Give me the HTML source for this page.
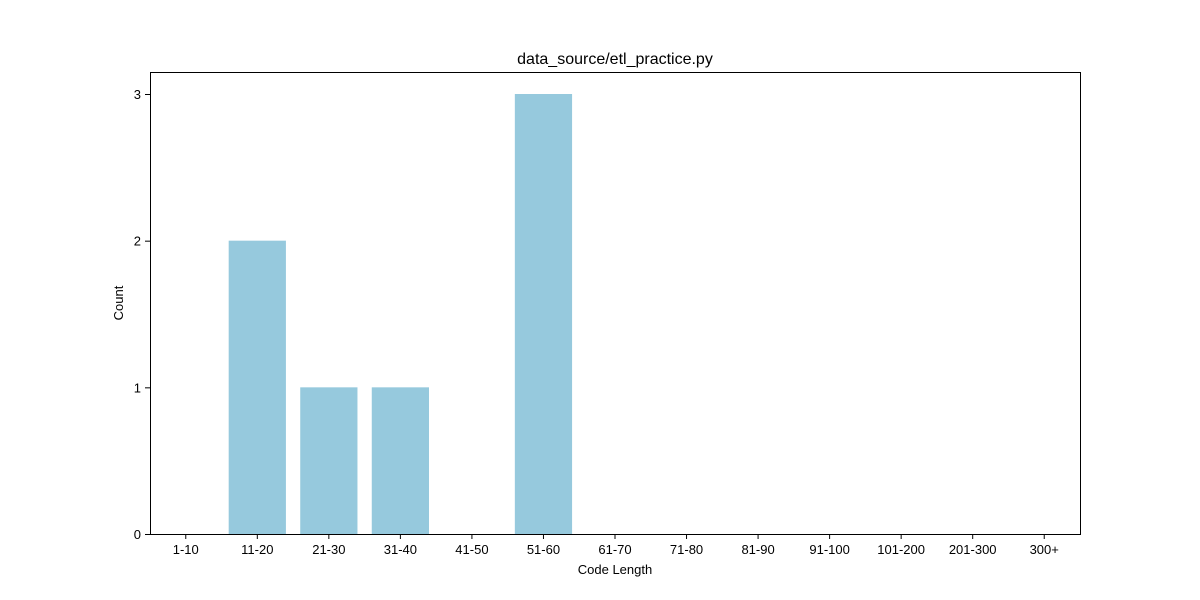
<!DOCTYPE html>
<html><head><meta charset="utf-8"><style>
body{margin:0;background:#fff;}
svg{display:block;font-family:"Liberation Sans","DejaVu Sans",sans-serif;}
</style></head><body>
<svg id="chart" width="1200" height="600">
<rect width="1200" height="600" fill="#fff"/>
<text x="615" y="64" text-anchor="middle" font-size="16">data_source/etl_practice.py</text>
<g id="bars"></g>
<g id="xticks"></g>
<g id="yticks"></g>
<rect x="150.5" y="72.5" width="930" height="462" fill="none" stroke="#000" stroke-width="1"/>
<text x="615" y="574" text-anchor="middle" font-size="13">Code Length</text>
<text transform="translate(123,303) rotate(-90)" text-anchor="middle" font-size="13">Count</text>
</svg>
<script>
const categories = ["1-10","11-20","21-30","31-40","41-50","51-60","61-70","71-80","81-90","91-100","101-200","201-300","300+"];
const counts = [0,2,1,1,0,3,0,0,0,0,0,0,0];
const yTickValues = [0,1,2,3];
const NS="http://www.w3.org/2000/svg";
const L=150,R=1080,T=72,B=534,yMax=3.15;
const step=(R-L)/categories.length;
const xc=i=>L+step*(i+0.5);
const y=v=>B-(B-T)*v/yMax;
const bars=document.getElementById('bars'),xt=document.getElementById('xticks'),yt=document.getElementById('yticks');
categories.forEach((c,i)=>{
  const r=document.createElementNS(NS,'rect');
  r.setAttribute('x',xc(i)-step*0.4);r.setAttribute('width',step*0.8);
  r.setAttribute('y',y(counts[i]));r.setAttribute('height',B-y(counts[i]));
  r.setAttribute('fill','#96c9dd');
  
  
  bars.appendChild(r);
  const l=document.createElementNS(NS,'line');
  l.setAttribute('x1',xc(i));l.setAttribute('x2',xc(i));l.setAttribute('y1',B);l.setAttribute('y2',B+5);l.setAttribute('stroke','#000');
  
  
  xt.appendChild(l);
  const t=document.createElementNS(NS,'text');
  t.setAttribute('x',xc(i));t.setAttribute('y',B+20);t.setAttribute('text-anchor','middle');t.setAttribute('font-size','13');
  t.textContent=c;
  
  
  xt.appendChild(t);
});
yTickValues.forEach(v=>{
  const l=document.createElementNS(NS,'line');
  l.setAttribute('x1',L-5);l.setAttribute('x2',L);l.setAttribute('y1',y(v)+0.5);l.setAttribute('y2',y(v)+0.5);l.setAttribute('stroke','#000');
  
  
  yt.appendChild(l);
  const t=document.createElementNS(NS,'text');
  t.setAttribute('x',L-9);t.setAttribute('y',y(v)+5);t.setAttribute('text-anchor','end');t.setAttribute('font-size','13');
  t.textContent=v;
  
  
  yt.appendChild(t);
});
</script>
</body></html>
